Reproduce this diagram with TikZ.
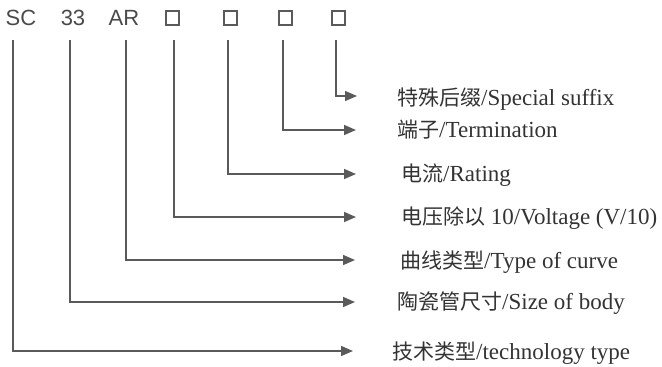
\documentclass[tikz,border=0pt]{standalone}
\usepackage{fontspec}
\setmainfont{Liberation Serif}
\newfontfamily\cjk{Noto Sans CJK SC}
\newfontfamily\arialf{Liberation Sans}
\usetikzlibrary{arrows.meta}
\definecolor{linec}{HTML}{5A5A5A}
\definecolor{textc}{HTML}{333333}
\definecolor{codec}{HTML}{4A4A4A}
\tikzset{
  conn/.style={draw=linec, line width=1.6pt, -{Triangle[length=12pt,width=10pt]}},
  code/.style={text=codec, font=\arialf\fontsize{22}{22}\selectfont, inner sep=0pt, anchor=base},
  codebox/.style={draw=linec, line width=2pt, minimum width=13pt, minimum height=14pt, inner sep=0pt},
  lbl/.style={text=textc, font=\fontsize{23}{23}\selectfont, inner sep=0pt, anchor=base west},
}
\newcommand{\zh}[1]{{\cjk\fontsize{21}{21}\selectfont\color{textc}#1}}
\begin{document}
\begin{tikzpicture}[x=1pt,y=-1pt]
\useasboundingbox (0,0) rectangle (662,367);
% top code
\node[code] (sc) at (21,25) {SC};
\node[code] (n33) at (73,25) {33};
\node[code] (ar) at (124,25) {AR};
\node[codebox] (b1) at (172.5,17.5) {};
\node[codebox] (b2) at (230,17.5) {};
\node[codebox] (b3) at (285,17.5) {};
\node[codebox] (b4) at (338,17.5) {};
% labels
\node[lbl] (t7) at (397,105) {\zh{特殊后缀}/Special suffix};
\node[lbl] (t6) at (397,137) {\zh{端子}/Termination};
\node[lbl] (t5) at (401,181) {\zh{电流}/Rating};
\node[lbl] (t4) at (401,224) {\zh{电压除以} 10/Voltage (V/10)};
\node[lbl] (t3) at (400,268) {\zh{曲线类型}/Type of curve};
\node[lbl] (t2) at (397,309) {\zh{陶瓷管尺寸}/Size of body};
\node[lbl] (t1) at (392,359) {\zh{技术类型}/technology type};
% line starts
\coordinate (s1) at (13,40);
\coordinate (s2) at (70,40);
\coordinate (s3) at (126,40);
\coordinate (s4) at (174,40);
\coordinate (s5) at (228,40);
\coordinate (s6) at (283,40);
\coordinate (s7) at (336,40);
% arrow ends
\coordinate (e1) at (353,351);
\coordinate (e2) at (355,302);
\coordinate (e3) at (355,260);
\coordinate (e4) at (356,217);
\coordinate (e5) at (356,174);
\coordinate (e6) at (356,130);
\coordinate (e7) at (357,96);
\foreach \i in {1,...,7}{\draw[conn] (s\i) |- (e\i);}
\end{tikzpicture}
\end{document}
